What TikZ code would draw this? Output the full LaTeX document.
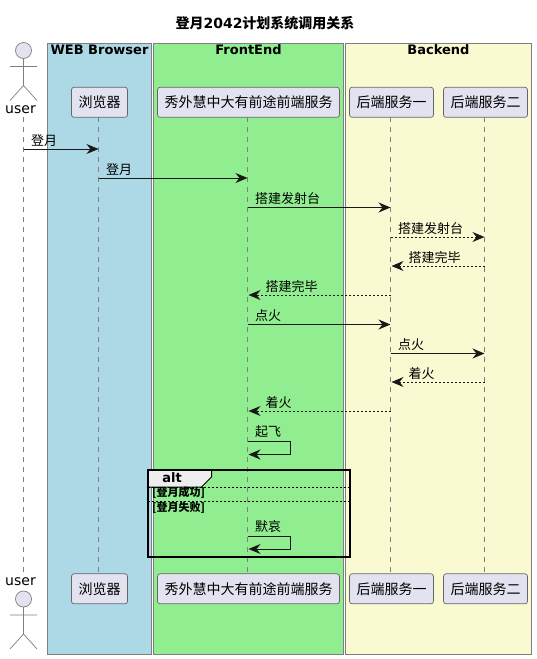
\documentclass[tikz,border=0pt]{standalone}
\usepackage{fontspec}
\setmainfont{DejaVu Sans}
\newfontfamily\cjk{Noto Sans CJK SC}
\usetikzlibrary{arrows.meta}
\definecolor{Ink}{HTML}{181818}
\definecolor{Edge}{HTML}{7F7F7F}
\definecolor{PartEdge}{HTML}{666666}
\definecolor{PartFill}{HTML}{E2E2F0}
\definecolor{WebBlue}{HTML}{ADD8E6}
\definecolor{FrontGreen}{HTML}{90EE90}
\definecolor{BackYellow}{HTML}{FAFAD2}
\definecolor{TabGrey}{HTML}{EEEEEE}
\tikzset{
  groupbox/.style={draw=Edge,line width=1pt},
  grouptitle/.style={font=\fontsize{13}{13}\selectfont\bfseries,text=black,inner sep=0pt},
  part/.style={draw=PartEdge,fill=PartFill,rounded corners=2.5pt,line width=.7pt,minimum height=30pt,inner sep=0pt,font=\fontsize{14}{14}\selectfont\cjk,text=black},
  actorline/.style={draw=Edge,line width=.7pt},
  lifeline/.style={draw=Edge,line width=.7pt,dash pattern=on 5pt off 5pt},
  msg/.style={-{Stealth[length=12pt,width=10pt,inset=4pt]},draw=Ink,line width=.9pt},
  backmsg/.style={msg,dash pattern=on 2pt off 2pt},
  msglabel/.style={anchor=west,inner sep=0pt,font=\fontsize{13}{13}\selectfont\cjk,text=black},
  altbox/.style={draw=black,line width=2pt},
  altrule/.style={draw=black,line width=.7pt,dash pattern=on 2pt off 2pt},
  guard/.style={anchor=west,inner sep=0pt,font=\fontsize{11}{11}\selectfont\cjk\bfseries,text=black}
}
\begin{document}
\begin{tikzpicture}[x=1pt,y=-1pt]
  \useasboundingbox (0,0) rectangle (536,659);

  % groups
  \foreach \xa/\xb/\col/\ttl in {47.5/151.5/WebBlue/WEB Browser,153.5/343.5/FrontGreen/FrontEnd,345.5/531.5/BackYellow/Backend}{
    \draw[groupbox,fill=\col] (\xa,43.5) rectangle (\xb,654.5);
    \node[grouptitle] (t\col) at ({(\xa+\xb)/2},50) {\ttl};
  }
  \node[font=\fontsize{14}{14}\selectfont\bfseries,inner sep=0pt] (title) at (265,23) {{\cjk 登月}2042{\cjk 计划系统调用关系}};

  % participants
  \foreach \nm/\x/\w/\ttl in {br/99.5/56/浏览器,fe/248.5/182/秀外慧中大有前途前端服务,sa/391.5/84/后端服务一,sb/485.5/84/后端服务二}{
    \node[part,minimum width=\w pt] (\nm Top) at (\x,102.3) {\ttl};
    \node[part,minimum width=\w pt] (\nm Bot) at (\x,588.8) {\ttl};
    \coordinate (\nm Line) at (\x-1,117.3);
    \draw[lifeline] (\nm Line) -- (\nm Line |- \nm Bot.north);
  }

  % actor
  \node[inner sep=0pt,font=\fontsize{14}{14}\selectfont] (userTop) at (20.5,110) {user};
  \node[inner sep=0pt,font=\fontsize{14}{14}\selectfont] (userBot) at (20.5,582) {user};
  \coordinate (userLine) at (23.5,117);
  \draw[lifeline] (userLine) -- (23.5,573);
  \foreach \y in {50.5,599}{
    \draw[actorline,fill=PartFill] (23.5,\y) circle (8);
    \draw[actorline] (23.5,\y+8) -- (23.5,\y+35) (10,\y+16) -- (37,\y+16)
      (10,\y+50) -- (23.5,\y+35) -- (37,\y+50);
  }

  % messages
  \foreach \a/\b/\y/\ttl in {userLine/brLine/149/登月,brLine/feLine/178/登月,feLine/saLine/207.5/搭建发射台,feLine/saLine/324.5/点火,saLine/sbLine/353.5/点火}{
    \draw[msg] (\a |- 0,\y) -- (\b |- 0,\y);
    \node[msglabel] at ([xshift=7.5pt]\a |- 0,\y-8.5) {\ttl};
  }
  \foreach \a/\b/\y/\ttl in {saLine/sbLine/237/搭建发射台}{
    \draw[backmsg] (\a |- 0,\y) -- (\b |- 0,\y);
    \node[msglabel] at ([xshift=7.5pt]\a |- 0,\y-8.5) {\ttl};
  }
  \foreach \a/\b/\y/\ttl in {sbLine/saLine/266/搭建完毕,saLine/feLine/295/搭建完毕,sbLine/saLine/382/着火,saLine/feLine/411/着火}{
    \draw[backmsg,shorten >=1pt] (\a |- 0,\y) -- (\b |- 0,\y);
    \node[msglabel] at ([xshift=18pt]\b |- 0,\y-8.5) {\ttl};
  }
  \foreach \ya/\yb/\ttl in {441/454.5/起飞,536/549/默哀}{
    \draw[msg,shorten >=1pt] (feLine |- 0,\ya) -| (290.5,\yb) -- (feLine |- 0,\yb);
    \node[msglabel] at ([xshift=7.5pt]feLine |- 0,\ya-9.5) {\ttl};
  }

  % alt frame
  \draw[altbox] (147.5,469.5) rectangle (349.5,557);
  \draw[line width=1pt,fill=TabGrey] (147.5,469.5) -- (211.5,469.5) -- (211.5,477) -- (201.5,487) -- (147.5,487) -- cycle;
  \draw[altbox] (147.5,469.5) -- (211.5,469.5) (147.5,469.5) -- (147.5,487);
  \node[inner sep=0pt,font=\fontsize{13}{13}\selectfont\bfseries] (altTag) at (172,477.5) {alt};
  \draw[altrule] (147.5,487.5) -- (349.5,487.5);
  \draw[altrule] (147.5,501.5) -- (349.5,501.5);
  \node[guard] (okGuard) at (152,492.7) {[登月成功]};
  \node[guard] (failGuard) at (152,507.7) {[登月失败]};
\end{tikzpicture}
\end{document}
